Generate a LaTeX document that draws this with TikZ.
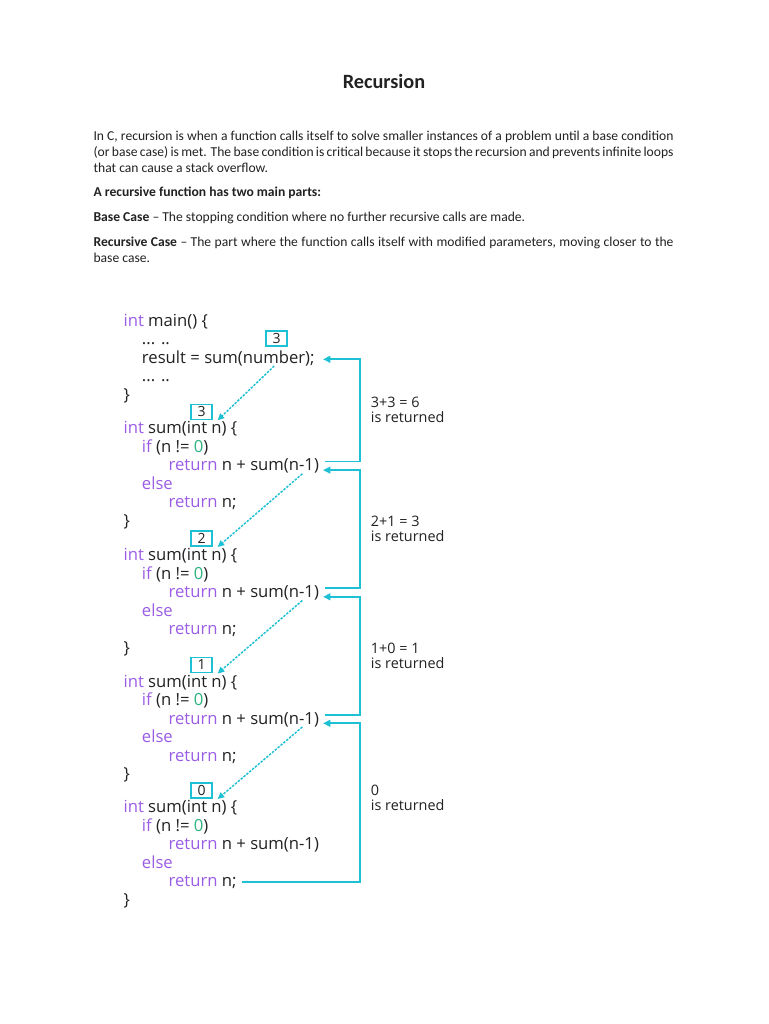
\documentclass[tikz,border=0pt]{standalone}
\usepackage{fontspec}
\setmainfont{Carlito}
\newfontfamily\codefont{Open Sans}
\usetikzlibrary{arrows.meta,calc}
\definecolor{kwpurple}{HTML}{9B5DE5}
\definecolor{numgreen}{HTML}{2DB37F}
\definecolor{callcyan}{HTML}{1EC0D4}
\definecolor{codetxt}{HTML}{222222}
\newcommand{\kw}[1]{\textcolor{kwpurple}{#1}}
\newcommand{\zero}{\textcolor{numgreen}{0}}
\newcommand{\bodyfont}{\fontsize{10.2}{11.85}\selectfont\spaceskip=0.226em plus 0.25em minus 0.1em\tolerance=9999}

\begin{document}
\begin{tikzpicture}[x=0.75pt, y=-0.75pt,
  every node/.style={text=codetxt},
  para/.style={anchor=base west, inner sep=0pt, text width=435pt, align=justify, font=\bodyfont},
  code/.style={anchor=mid west, inner sep=0pt, yshift=-1.875pt, font=\codefont\fontsize{12.5}{15}\selectfont},
  argbox/.style={draw=callcyan, line width=0.9pt, minimum width=15.75pt, minimum height=11.25pt, inner sep=0pt, font=\codefont\fontsize{10.5}{12}\selectfont},
  lab/.style={anchor=west, inner sep=0pt, align=left, font=\codefont\fontsize{10.8}{11.25}\selectfont},
  back/.style={draw=callcyan, line width=1.4pt, -{Triangle[length=5.5pt, width=5pt]}},
  call/.style={draw=callcyan, line width=1.1pt, dash pattern=on 1.8pt off 1pt, -{Triangle[length=5pt, width=4.5pt]}}
]
\fill[white] (0,0) rectangle (768,1024);
\useasboundingbox (0,0) rectangle (768,1024);
% heading and text
\node[anchor=base, inner sep=0pt, font=\bfseries\fontsize{15.2}{18}\selectfont] (title) at (384,88.5) {Recursion};
\node[para] (intro) at (93.3,140.7) {In C, recursion is when a function calls itself to solve smaller instances of a problem until a base condition\linebreak (or base case) is met. The base condition is critical because it stops the recursion and prevents infinite loops\linebreak that can cause a stack overflow.};
\node[para, font=\bodyfont\bfseries] (parts) at (93.3,196.7) {A recursive function has two main parts:};
\node[para] (basecase) at (93.3,221.7) {\textbf{Base Case} -- The stopping condition where no further recursive calls are made.};
\node[para] (reccase) at (93.3,246.7) {\textbf{Recursive Case} -- The part where the function calls itself with modified parameters, moving closer to the\linebreak base case.};
% main()
\node[code] (main) at (123.3,320.7) {\kw{int} main() \{};
\node[code] (dots1) at (141.7,339) {... ..};
\node[code] (res) at (141.7,357.5) {result = sum(number);};
\node[code] (dots2) at (141.7,376) {... ..};
\node[code] (mainend) at (123.3,394.5) {\}};
\node[argbox] (box0) at (276.5,338.5) {3};
% the four calls of sum()
\foreach \s/\n [count=\i] in {428.3/3,555/2,681.5/1,807/0} {
  \node[argbox] (box\i) at (201.5,\s-16.6) {\n};
  \node[code] (sum\i) at (123.3,\s) {\kw{int} sum(int n) \{};
  \node[code] (if\i) at (141.7,\s+18.4) {\kw{if} (n != \zero)};
  \node[code] (ret\i) at (168.3,\s+37) {\kw{return} n + sum(n-1)};
  \node[code] (else\i) at (141.7,\s+55.5) {\kw{else}};
  \node[code] (retn\i) at (168.3,\s+74) {\kw{return} n;};
  \node[code] (end\i) at (123.3,\s+92.4) {\}};
}
% return values
\coordinate (vx) at (360,0);
\coordinate (tx) at (323,0);
\draw[back] ($(ret1.mid east)+(6,-6.3)$) -| ($(vx |- res.mid east)+(0,-0.7)$) -- ($(tx |- res.mid east)+(0,-0.7)$);
\draw[back] ($(ret2.mid east)+(6,-6.3)$) -| ($(vx |- ret1.mid east)+(0,2.3)$) -- ($(tx |- ret1.mid east)+(0,2.3)$);
\draw[back] ($(ret3.mid east)+(6,-6.3)$) -| ($(vx |- ret2.mid east)+(0,2.3)$) -- ($(tx |- ret2.mid east)+(0,2.3)$);
\draw[back] ($(retn4.mid east)+(5.7,-1.5)$) -| ($(vx |- ret3.mid east)+(0,2.3)$) -- ($(tx |- ret3.mid east)+(0,2.3)$);
\node[lab] (out6) at (370.7,410.2) {3+3 = 6\\is returned};
\node[lab] (out3) at (370.7,529) {2+1 = 3\\is returned};
\node[lab] (out1) at (370.7,655.5) {1+0 = 1\\is returned};
\node[lab] (out0) at (370.7,798) {0\\is returned};
% calls
\draw[call] ($(res.mid west)+(132.5,6)$) -- ($(box1.south east)+(5,0.5)$);
\draw[call] ($(ret1.mid west)+(134,6)$) -- ($(box2.south east)+(5,0.5)$);
\draw[call] ($(ret2.mid west)+(134,6)$) -- ($(box3.south east)+(5,0.5)$);
\draw[call] ($(ret3.mid west)+(134,6)$) -- ($(box4.south east)+(5,0.5)$);
\end{tikzpicture}
\end{document}
